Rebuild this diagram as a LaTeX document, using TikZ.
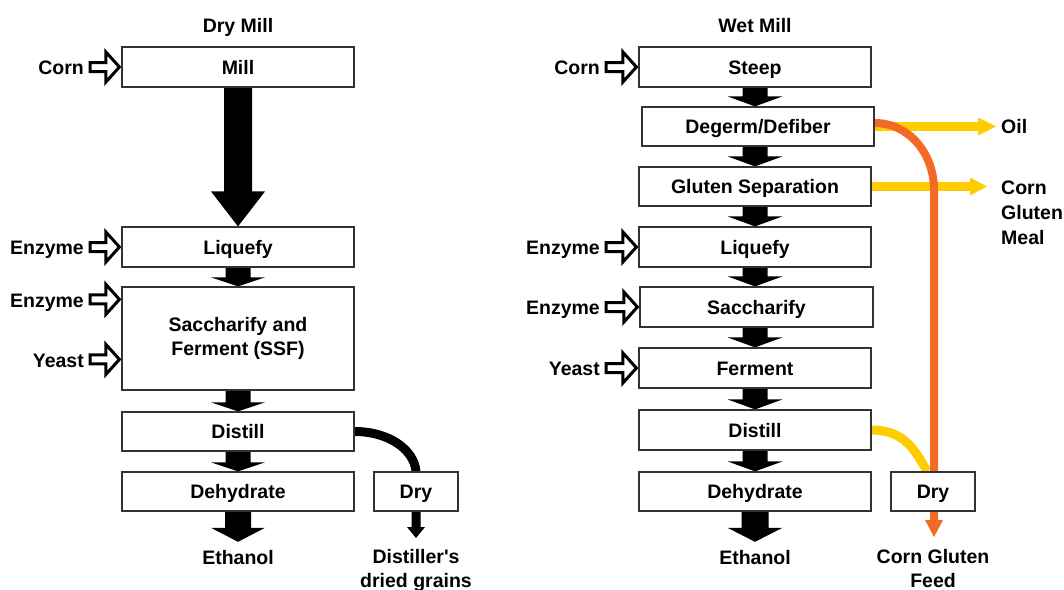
\documentclass[tikz,border=0pt]{standalone}
\usepackage{fontspec}
\setmainfont{Liberation Sans}
\usetikzlibrary{calc,arrows.meta}
\pgfdeclarelayer{bg}
\pgfsetlayers{bg,main}
\definecolor{ylw}{HTML}{FFCC00}
\definecolor{org}{HTML}{F26A25}
\newcommand\myfont{\fontsize{19.5}{24}\selectfont\bfseries}
\newcommand\blockdown[6]{\fill[#6] let \p1=#1, \p2=#2 in
  (\x1-#3,\y1) -- (\x1+#3,\y1) -- (\x1+#3,\y2+#5) -- (\x1+#4,\y2+#5) -- (\x1,\y2)
  -- (\x1-#4,\y2+#5) -- (\x1-#3,\y2+#5) -- cycle;}
\newcommand\inarrow[2]{\draw[hollow] let \p1=(#1.east), \p2=#2 in
  (\x1+6pt,\y2+4.5pt) -- (\x2-15.5pt,\y2+4.5pt) -- (\x2-15.5pt,\y2+15pt) -- (\x2-2pt,\y2)
  -- (\x2-15.5pt,\y2-15pt) -- (\x2-15.5pt,\y2-4.5pt) -- (\x1+6pt,\y2-4.5pt) -- cycle;}
\tikzset{
  box/.style={draw=black!80, line width=1.2pt, fill=white, minimum height=40pt,
    minimum width=232pt, inner sep=0pt, text height=14pt, text depth=0pt, font=\myfont},
  tallbox/.style={draw=black!80, line width=1.2pt, fill=white, minimum height=103pt,
    minimum width=232pt, inner sep=0pt, align=center, font=\myfont},
  lbl/.style={inner sep=0pt, text height=14pt, text depth=0pt, font=\myfont},
  ml/.style={inner sep=0pt, font=\myfont},
  hollow/.style={draw=black, line width=3pt, fill=white, line join=miter},
  flowtip/.style={-{Triangle[width=18pt,length=#1,line width=0pt]}},
}
\begin{document}
\begin{tikzpicture}[x=1pt,y=-1pt]
\useasboundingbox (0,0) rectangle (1064,589);

% ---------- Dry mill ----------
\node[lbl] (drytitle) at (238,25) {Dry Mill};
\node[box] (mill) at (238,67) {Mill};
\node[box] (dliq) at (238,247) {Liquefy};
\node[tallbox] (ssf) at (238,338.5) {Saccharify and\\Ferment (SSF)};
\node[box, minimum height=39pt] (ddist) at (238,431.5) {Distill};
\node[box, minimum height=39pt] (ddehy) at (238,491.5) {Dehydrate};
\node[box, minimum height=39pt, minimum width=84pt] (ddry) at (416,491.5) {Dry};
\node[lbl] (deth) at (238,557) {Ethanol};
\node[ml, align=center, anchor=north] (dgrain) at (416,549) {Distiller\textquotesingle s\\dried grains};

\node[lbl, anchor=east] (dcorn) at (84,67) {Corn};
\node[lbl, anchor=east] (denz1) at (84,247) {Enzyme};
\node[lbl, anchor=east] (denz2) at (84,300) {Enzyme};
\node[lbl, anchor=east] (dyeast) at (84,360) {Yeast};

% ---------- Wet mill ----------
\node[lbl] (wettitle) at (755,25) {Wet Mill};
\node[box] (steep) at (755,67) {Steep};
\node[box, minimum height=39pt] (degerm) at (758,126.5) {Degerm/Defiber};
\node[box, minimum height=39pt] (gluten) at (755,186.5) {Gluten Separation};
\node[box] (wliq) at (755,247) {Liquefy};
\node[box, minimum width=233pt] (sacch) at (756.5,307) {Saccharify};
\node[box] (ferm) at (755,368) {Ferment};
\node[box] (wdist) at (755,430) {Distill};
\node[box, minimum height=39pt] (wdehy) at (755,491.5) {Dehydrate};
\node[box, minimum height=39pt, minimum width=84pt] (wdry) at (933,491.5) {Dry};
\node[lbl] (weth) at (755,557) {Ethanol};
\node[ml, align=center, anchor=north] (cgf) at (933,549) {Corn Gluten\\Feed};
\node[lbl, anchor=west] (oil) at (1001,126) {Oil};
\node[ml, align=left, anchor=north west, font=\fontsize{19.5}{25}\selectfont\bfseries] (cgm) at (1001,181) {Corn\\Gluten\\Meal};

\node[lbl, anchor=east] (wcorn) at (600,67) {Corn};
\node[lbl, anchor=east] (wenz1) at (600,247) {Enzyme};
\node[lbl, anchor=east] (wenz2) at (600,307) {Enzyme};
\node[lbl, anchor=east] (wyeast) at (600,368) {Yeast};

\coordinate (oiltip) at ($(oil.west)+(-5,0)$);
\coordinate (cgmtip) at ($(cgm.north west)+(-14,6)$);
\coordinate (obend) at (934,190);
\coordinate (otip) at ($(cgf.north)+(1,-12)$);

\begin{pgfonlayer}{bg}
% dry mill connectors
\blockdown{(mill.south)}{(dliq.north)}{14pt}{27pt}{35pt}{black}
\blockdown{(dliq.south)}{(ssf.north)}{12.5pt}{27pt}{9pt}{black}
\blockdown{(ssf.south)}{(ddist.north)}{12.5pt}{27pt}{9pt}{black}
\blockdown{(ddist.south)}{(ddehy.north)}{12.5pt}{27pt}{9pt}{black}
\blockdown{(ddehy.south)}{($(deth.north)+(0,-8)$)}{13pt}{27pt}{14pt}{black}
\draw[line width=9pt] (ddist.east) .. controls +(34,0) and +(-2,-22) .. (ddry.north);
\blockdown{(ddry.south)}{($(dgrain.north)+(0,-11)$)}{4.5pt}{9pt}{11pt}{black}
\inarrow{dcorn}{(mill.west)}
\inarrow{denz1}{(dliq.west)}
\inarrow{denz2}{($(ssf.north west)+(0,13)$)}
\inarrow{dyeast}{($(ssf.north west)+(0,73)$)}

% wet mill connectors
\blockdown{(steep.south)}{(steep.south |- degerm.north)}{12.5pt}{27.5pt}{10pt}{black}
\blockdown{(steep.south |- degerm.south)}{(gluten.north)}{12.5pt}{27.5pt}{10pt}{black}
\blockdown{(gluten.south)}{(wliq.north)}{12.5pt}{27.5pt}{10pt}{black}
\blockdown{(wliq.south)}{(wliq.south |- sacch.north)}{12.5pt}{27.5pt}{10pt}{black}
\blockdown{(wliq.south |- sacch.south)}{(ferm.north)}{12.5pt}{27.5pt}{10pt}{black}
\blockdown{(ferm.south)}{(wdist.north)}{12.5pt}{27.5pt}{10pt}{black}
\blockdown{(wdist.south)}{(wdehy.north)}{12.5pt}{27.5pt}{10pt}{black}
\blockdown{(wdehy.south)}{($(weth.north)+(0,-8)$)}{13.5pt}{27.5pt}{14pt}{black}
\inarrow{wcorn}{(steep.west)}
\inarrow{wenz1}{(wliq.west)}
\inarrow{wenz2}{(sacch.west)}
\inarrow{wyeast}{(ferm.west)}

\draw[ylw, line width=9pt, flowtip=18pt] (degerm.east) -- (degerm.east -| oiltip);
\draw[ylw, line width=9pt, flowtip=17pt] (gluten.east) -- (gluten.east -| cgmtip);
\draw[ylw, line width=9pt] (wdist.east) .. controls +(32,0) and +(-12,-22) .. ($(wdry.north)+(-6,0)$);
\draw[org, line width=8pt, flowtip=17pt] ($(degerm.east)+(0,-3.5)$) .. controls +(34,0) and +(0,-37) .. (obend) -- (otip);
\end{pgfonlayer}
\end{tikzpicture}
\end{document}
